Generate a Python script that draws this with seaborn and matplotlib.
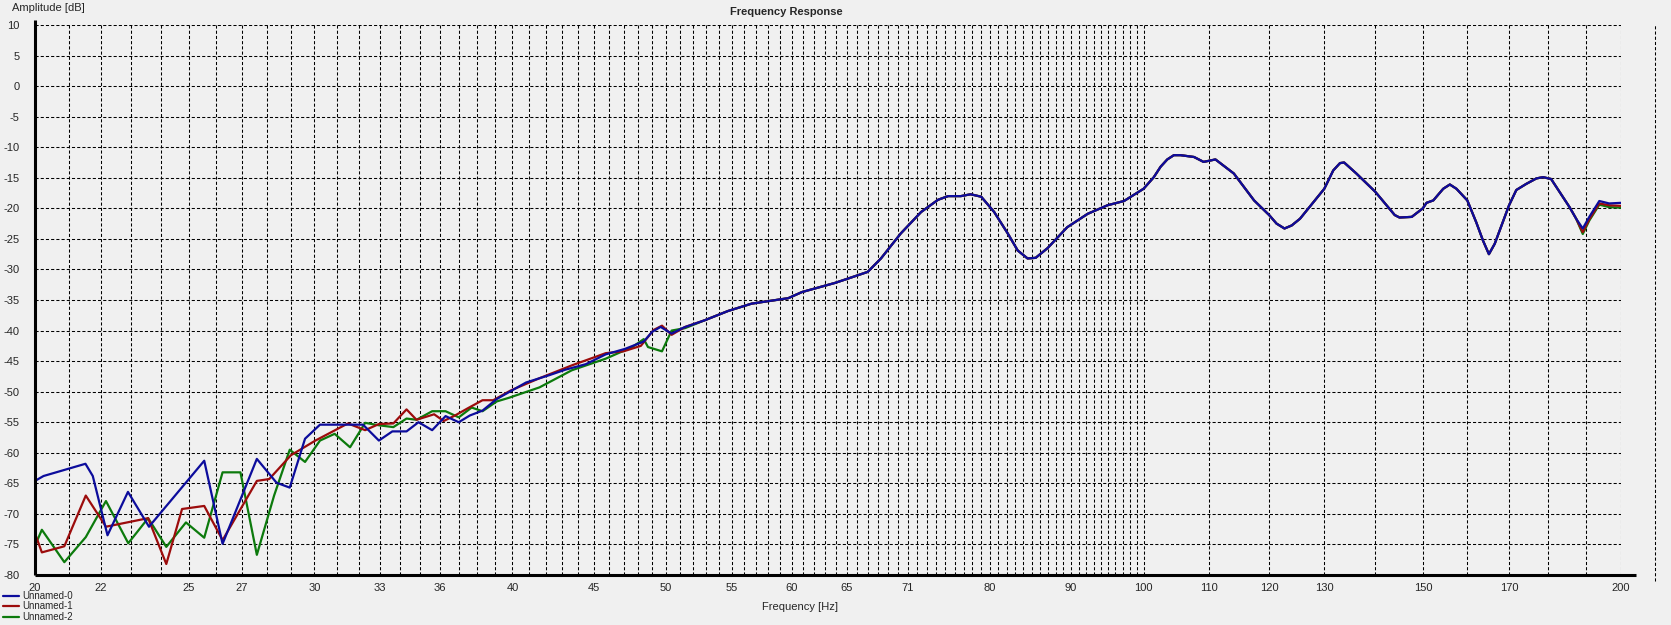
import numpy as np
import pandas as pd
import matplotlib
matplotlib.use('Agg')
import matplotlib.pyplot as plt
from matplotlib.ticker import NullLocator
from matplotlib.lines import Line2D
import seaborn as sns

series_names = ['Unnamed-0', 'Unnamed-1', 'Unnamed-2']
series_colors = ['#0c0c9c', '#9c0c0c', '#0c7a0c']

# below ~52 Hz each trace has its own wiggles
blue_low_hz = [20.0, 20.25, 21.52, 21.75, 22.22, 22.89, 23.6, 25.57, 26.26, 27.6, 28.4, 28.95,
               29.6, 30.25, 32.2, 32.95, 33.6, 34.3, 34.9, 35.6, 36.3, 37.0, 37.6, 38.3, 39.1,
               40.8, 42.2, 43.2, 44.5, 45.8, 47.1, 48.4, 49.0, 49.6, 50.4, 51.3]
blue_low_db = [-64.6, -63.8, -61.8, -63.8, -73.5, -66.4, -72.1, -61.3, -74.9, -61.0, -64.9, -65.7,
               -57.7, -55.4, -55.4, -58.0, -56.5, -56.5, -55.0, -56.3, -54.0, -55.0, -53.9, -53.1, -51.2,
               -48.5, -47.3, -46.4, -45.5, -43.9, -43.0, -41.8, -40.2, -39.4, -40.5, -39.5]

red_low_hz = [20.0, 20.2, 20.87, 21.53, 22.17, 23.57, 24.2, 24.76, 25.57, 26.26, 27.6, 28.1,
              29.0, 30.05, 31.5, 32.3, 32.95, 33.65, 34.3, 34.8, 35.7, 36.2, 36.8, 37.5, 38.3,
              38.9, 39.9, 41.6, 43.6, 45.8, 47.0, 48.2, 49.1, 49.7, 50.4, 51.4]
red_low_db = [-73.2, -76.3, -75.3, -67.0, -72.1, -70.7, -78.2, -69.2, -68.7, -74.3, -64.6, -64.3,
              -60.4, -58.0, -55.2, -56.3, -55.3, -55.2, -52.9, -54.6, -53.7, -54.8, -53.9, -52.7, -51.4,
              -51.4, -49.8, -47.8, -45.7, -43.7, -43.4, -42.5, -39.9, -39.2, -40.7, -39.4]

green_low_hz = [20.0, 20.2, 20.87, 21.53, 22.17, 22.9, 23.57, 24.2, 24.9, 25.57, 26.26, 26.95,
                27.6, 28.3, 28.95, 29.6, 30.25, 30.9, 31.6, 32.3, 32.95, 33.65, 34.3, 34.8, 35.6,
                36.3, 37.0, 37.7, 38.3, 39.1, 39.8, 41.6, 43.6, 45.8, 47.6, 48.4, 48.7, 49.7,
                50.4, 51.4]
green_low_db = [-75.2, -72.6, -77.9, -73.8, -67.9, -74.8, -70.7, -75.4, -71.4, -73.9, -63.2, -63.2,
                -76.7, -67.0, -59.5, -61.5, -58.0, -56.9, -59.1, -55.1, -55.5, -55.8, -54.4, -54.6, -53.2,
                -53.2, -54.2, -52.6, -53.2, -51.6, -51.0, -49.3, -46.5, -44.6, -42.7, -41.4, -42.7, -43.4,
                -40.0, -39.6]

# above that the three traces lie on top of each other
common_hz = [52.9, 54.7, 56.6, 59.7, 60.9, 63.9, 65.1, 67.0, 68.3, 70.3, 72.4, 74.2, 75.3, 76.7,
             77.8, 79.0, 80.5, 82.1, 83.3, 84.5, 85.5, 87.0, 89.5, 92.2, 94.9, 97.2, 100.0, 101.5,
             102.5, 103.5, 104.5, 105.5, 107.6, 109.1, 111.0, 114.0, 117.4, 120.0, 121.3, 122.7,
             124.0, 125.5, 130.0, 131.7, 133.0, 133.8, 136.2, 140.0, 144.0, 145.0, 147.6, 150.0,
             150.8, 152.3, 154.5, 156.0, 157.5, 160.0, 162.1, 163.7, 165.1, 166.5, 170.0, 171.8,
             174.3, 176.9, 178.6, 180.7, 185.6, 187.4]
common_db = [-38.3, -36.8, -35.6, -34.7, -33.7, -32.2, -31.5, -30.4, -28.2, -24.1, -20.6, -18.6, -18.0, -18.0,
             -17.7, -18.1, -20.6, -24.1, -26.9, -28.2, -28.1, -26.5, -23.1, -20.9, -19.5, -18.8, -16.8, -14.9,
             -13.2, -12.0, -11.3, -11.3, -11.6, -12.4, -12.0, -14.3, -18.7, -21.1, -22.5, -23.3,
             -22.8, -21.7, -16.8, -13.8, -12.6, -12.5, -14.3, -17.3, -21.1, -21.5, -21.4, -20.0,
             -19.1, -18.7, -16.8, -16.1, -16.8, -18.7, -22.3, -25.3, -27.5, -25.8, -19.5, -17.0,
             -16.0, -15.1, -14.9, -15.2, -19.8, -21.7]

# they split a little again at the top end
tail_hz = [189.2, 191.0, 193.8, 196.6, 200.0]
blue_tail_db = [-23.3, -21.4, -18.8, -19.2, -19.1]
red_tail_db = [-23.9, -21.8, -19.2, -19.5, -19.6]
green_tail_db = [-24.2, -22.0, -19.4, -19.8, -19.9]

x_label_hz = [20, 22, 25, 27, 30, 33, 36, 40, 45, 50, 55, 60, 65, 71, 80, 90, 100,
              110, 120, 130, 150, 170, 200]
x_grid_hz = list(range(20, 101)) + list(range(110, 201, 10))
y_ticks = list(range(-80, 15, 5))

# long table for seaborn
parts = []
for name, lo_hz, lo_db, tl_db in zip(series_names,
                                     [blue_low_hz, red_low_hz, green_low_hz],
                                     [blue_low_db, red_low_db, green_low_db],
                                     [blue_tail_db, red_tail_db, green_tail_db]):
    parts.append(pd.DataFrame({'Frequency': lo_hz + common_hz + tail_hz,
                               'Amplitude': lo_db + common_db + tl_db,
                               'Trace': name}))
df = pd.concat(parts, ignore_index=True)

sns.set_theme(style='white')
plt.rcParams['font.family'] = ['Liberation Sans', 'DejaVu Sans']
bg = '#f0f0f0'

fig = plt.figure(figsize=(16.71, 6.25), dpi=100, facecolor=bg)
ax = fig.add_axes([35 / 1671, 50 / 625, 1586 / 1671, 550 / 625])
ax.set_facecolor(bg)

palette = dict(zip(series_names, series_colors))
sns.lineplot(data=df, x='Frequency', y='Amplitude', hue='Trace',
             hue_order=series_names[::-1], palette=palette,
             estimator=None, sort=False, linewidth=1.6, legend=False, ax=ax)

ax.set_xscale('log')
ax.set_xlim(20, 200)
ax.set_ylim(-80, 10)
ax.set_xticks(x_grid_hz)
ax.set_xticklabels([str(f) if f in x_label_hz else '' for f in x_grid_hz])
ax.xaxis.set_minor_locator(NullLocator())
ax.set_yticks(y_ticks)
ax.set_yticklabels([str(v) for v in y_ticks])
ax.tick_params(axis='x', which='major', direction='out', length=4.5, width=0.8,
               color='black', pad=1, labelsize=8)
ax.tick_params(axis='y', length=0, pad=11, labelsize=8)
ax.grid(True, which='major', color='black', linestyle=(0, (3, 2)), linewidth=0.75)
ax.set_axisbelow(True)
ax.set_xlabel('')
ax.set_ylabel('')
for s in ax.spines.values():
    s.set_visible(False)

# axis lines drawn by hand, the bottom one runs a bit past 200
ax.plot([0, 0], [0, 1.01], transform=ax.transAxes, color='black', lw=2.2,
        clip_on=False, solid_capstyle='butt')
ax.plot([0, 1.0095], [0, 0], transform=ax.transAxes, color='black', lw=2.2,
        clip_on=False, solid_capstyle='butt')
ax.plot([1.0214, 1.0214], [-0.011, 1], transform=ax.transAxes, color='black', lw=0.75,
        linestyle=(0, (3, 2)), clip_on=False)

fig.text(786 / 1671, 1 - 12 / 625, 'Frequency Response', ha='center', va='center',
         fontsize=8, fontweight='bold')
fig.text(12 / 1671, 1 - 8 / 625, 'Amplitude [dB]', ha='left', va='center', fontsize=8)
fig.text(800 / 1671, 1 - 607 / 625, 'Frequency [Hz]', ha='center', va='center', fontsize=8)

handles = [Line2D([], [], color=c, lw=1.6) for c in series_colors]
fig.legend(handles, series_names, loc='upper left', bbox_to_anchor=(0.002, 1 - 591 / 625),
           frameon=False, fontsize=7, handlelength=1.6, handletextpad=0.3,
           labelspacing=0.05, borderpad=0, borderaxespad=0)

fig.savefig('out.png', dpi=100, facecolor=bg)
